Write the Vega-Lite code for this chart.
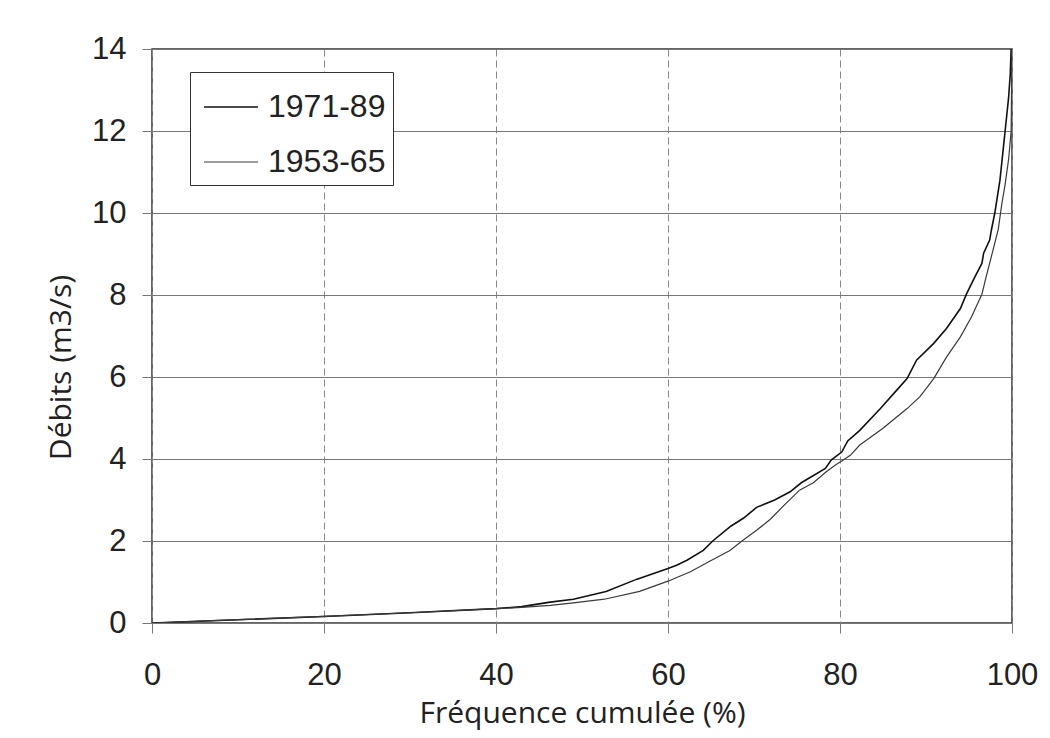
{
  "$schema": "https://vega.github.io/schema/vega-lite/v6.json",
  "width": 860,
  "height": 574,
  "autosize": "none",
  "padding": {"left": 152, "top": 49, "right": 38, "bottom": 115},
  "background": "white",
  "data": {"values": [
    {"f": 0, "q": 0, "p": "1971-89"},
    {"f": 10, "q": 0.08, "p": "1971-89"},
    {"f": 20, "q": 0.16, "p": "1971-89"},
    {"f": 30, "q": 0.25, "p": "1971-89"},
    {"f": 40, "q": 0.35, "p": "1971-89"},
    {"f": 43, "q": 0.40, "p": "1971-89"},
    {"f": 46.3, "q": 0.51, "p": "1971-89"},
    {"f": 49, "q": 0.58, "p": "1971-89"},
    {"f": 52.8, "q": 0.77, "p": "1971-89"},
    {"f": 56.4, "q": 1.07, "p": "1971-89"},
    {"f": 60, "q": 1.33, "p": "1971-89"},
    {"f": 61, "q": 1.41, "p": "1971-89"},
    {"f": 62.2, "q": 1.53, "p": "1971-89"},
    {"f": 64.1, "q": 1.77, "p": "1971-89"},
    {"f": 65.2, "q": 2.0, "p": "1971-89"},
    {"f": 67.3, "q": 2.36, "p": "1971-89"},
    {"f": 68.8, "q": 2.56, "p": "1971-89"},
    {"f": 70.3, "q": 2.82, "p": "1971-89"},
    {"f": 72.4, "q": 3.0, "p": "1971-89"},
    {"f": 74.2, "q": 3.2, "p": "1971-89"},
    {"f": 75.5, "q": 3.42, "p": "1971-89"},
    {"f": 78.3, "q": 3.77, "p": "1971-89"},
    {"f": 79, "q": 3.98, "p": "1971-89"},
    {"f": 80.2, "q": 4.17, "p": "1971-89"},
    {"f": 80.9, "q": 4.44, "p": "1971-89"},
    {"f": 82.3, "q": 4.7, "p": "1971-89"},
    {"f": 84.7, "q": 5.23, "p": "1971-89"},
    {"f": 86.6, "q": 5.68, "p": "1971-89"},
    {"f": 87.8, "q": 5.96, "p": "1971-89"},
    {"f": 88.9, "q": 6.41, "p": "1971-89"},
    {"f": 90.9, "q": 6.82, "p": "1971-89"},
    {"f": 92.4, "q": 7.19, "p": "1971-89"},
    {"f": 94, "q": 7.67, "p": "1971-89"},
    {"f": 94.7, "q": 8.02, "p": "1971-89"},
    {"f": 95.7, "q": 8.45, "p": "1971-89"},
    {"f": 96.5, "q": 8.77, "p": "1971-89"},
    {"f": 96.7, "q": 9.02, "p": "1971-89"},
    {"f": 97.4, "q": 9.34, "p": "1971-89"},
    {"f": 97.6, "q": 9.58, "p": "1971-89"},
    {"f": 98, "q": 10, "p": "1971-89"},
    {"f": 98.6, "q": 10.8, "p": "1971-89"},
    {"f": 99, "q": 11.6, "p": "1971-89"},
    {"f": 99.2, "q": 12.0, "p": "1971-89"},
    {"f": 99.6, "q": 12.8, "p": "1971-89"},
    {"f": 99.8, "q": 13.4, "p": "1971-89"},
    {"f": 99.9, "q": 14, "p": "1971-89"},
    {"f": 0, "q": 0, "p": "1953-65"},
    {"f": 10, "q": 0.08, "p": "1953-65"},
    {"f": 20, "q": 0.16, "p": "1953-65"},
    {"f": 30, "q": 0.25, "p": "1953-65"},
    {"f": 40, "q": 0.35, "p": "1953-65"},
    {"f": 43, "q": 0.38, "p": "1953-65"},
    {"f": 46.3, "q": 0.43, "p": "1953-65"},
    {"f": 49, "q": 0.49, "p": "1953-65"},
    {"f": 52.6, "q": 0.58, "p": "1953-65"},
    {"f": 56.7, "q": 0.77, "p": "1953-65"},
    {"f": 60, "q": 1.02, "p": "1953-65"},
    {"f": 62.6, "q": 1.25, "p": "1953-65"},
    {"f": 64.9, "q": 1.51, "p": "1953-65"},
    {"f": 67.2, "q": 1.77, "p": "1953-65"},
    {"f": 68.6, "q": 2.0, "p": "1953-65"},
    {"f": 70.3, "q": 2.26, "p": "1953-65"},
    {"f": 71.9, "q": 2.53, "p": "1953-65"},
    {"f": 73.4, "q": 2.85, "p": "1953-65"},
    {"f": 75.3, "q": 3.24, "p": "1953-65"},
    {"f": 76.9, "q": 3.42, "p": "1953-65"},
    {"f": 78.4, "q": 3.69, "p": "1953-65"},
    {"f": 79.6, "q": 3.87, "p": "1953-65"},
    {"f": 80.2, "q": 3.95, "p": "1953-65"},
    {"f": 81.2, "q": 4.09, "p": "1953-65"},
    {"f": 82.3, "q": 4.34, "p": "1953-65"},
    {"f": 85, "q": 4.75, "p": "1953-65"},
    {"f": 87.8, "q": 5.23, "p": "1953-65"},
    {"f": 89.3, "q": 5.52, "p": "1953-65"},
    {"f": 90.9, "q": 5.96, "p": "1953-65"},
    {"f": 92.4, "q": 6.49, "p": "1953-65"},
    {"f": 94, "q": 6.98, "p": "1953-65"},
    {"f": 95.3, "q": 7.47, "p": "1953-65"},
    {"f": 96.5, "q": 8.02, "p": "1953-65"},
    {"f": 97, "q": 8.45, "p": "1953-65"},
    {"f": 97.8, "q": 9.1, "p": "1953-65"},
    {"f": 98.4, "q": 9.6, "p": "1953-65"},
    {"f": 98.8, "q": 10.2, "p": "1953-65"},
    {"f": 99.2, "q": 10.7, "p": "1953-65"},
    {"f": 99.6, "q": 11.3, "p": "1953-65"},
    {"f": 99.9, "q": 12.0, "p": "1953-65"},
    {"f": 100, "q": 14, "p": "1953-65"}
  ]},
  "mark": {"type": "line", "clip": true, "interpolate": "linear"},
  "encoding": {
    "x": {
      "field": "f", "type": "quantitative",
      "scale": {"domain": [0, 100], "nice": false, "zero": false},
      "axis": {
        "values": [0, 20, 40, 60, 80, 100],
        "title": "Fréquence cumulée (%)",
        "titleFont": "Open Sans", "titleFontSize": 30, "titleFontWeight": "normal", "titleColor": "#222",
        "titleBaseline": "alphabetic", "titleY": 99,
        "labelFont": "Liberation Sans", "labelFontSize": 31, "labelColor": "#222",
        "labelFlush": false, "labelOverlap": false,
        "labelPadding": 27, "tickSize": 10, "tickColor": "#777", "tickWidth": 1,
        "domain": false,
        "grid": true, "gridColor": "#888", "gridDash": [7, 4], "gridWidth": 1
      }
    },
    "y": {
      "field": "q", "type": "quantitative",
      "scale": {"domain": [0, 14], "nice": false},
      "axis": {
        "values": [0, 2, 4, 6, 8, 10, 12, 14],
        "title": "Débits (m3/s)",
        "titleFont": "Open Sans", "titleFontSize": 30, "titleFontWeight": "normal", "titleColor": "#222",
        "titleAngle": 270, "titleBaseline": "alphabetic", "titleAlign": "center", "titleX": -82, "titleY": 318,
        "labelFont": "Liberation Sans", "labelFontSize": 31, "labelColor": "#222",
        "labelFlush": false, "labelOverlap": false,
        "labelPadding": 16, "tickSize": 10, "tickColor": "#777", "tickWidth": 1,
        "domain": false,
        "grid": true, "gridColor": "#777", "gridWidth": 1
      }
    },
    "color": {
      "field": "p", "type": "nominal",
      "scale": {"domain": ["1971-89", "1953-65"], "range": ["#111111", "#3a3a3a"]},
      "legend": {
        "title": null,
        "orient": "none", "legendX": 38, "legendY": 23,
        "strokeColor": "#333", "fillColor": "white", "padding": 7,
        "symbolType": "stroke", "symbolSize": 2916, "symbolStrokeWidth": 1.3, "symbolOffset": 6,
        "labelFont": "Liberation Sans", "labelFontSize": 32, "labelColor": "#222",
        "labelOffset": 9, "rowPadding": 11
      }
    },
    "strokeWidth": {
      "field": "p", "type": "nominal",
      "scale": {"domain": ["1971-89", "1953-65"], "range": [1.6, 1.2]},
      "legend": null
    }
  },
  "config": {
    "view": {"stroke": "#333", "strokeWidth": 1.5}
  }
}
